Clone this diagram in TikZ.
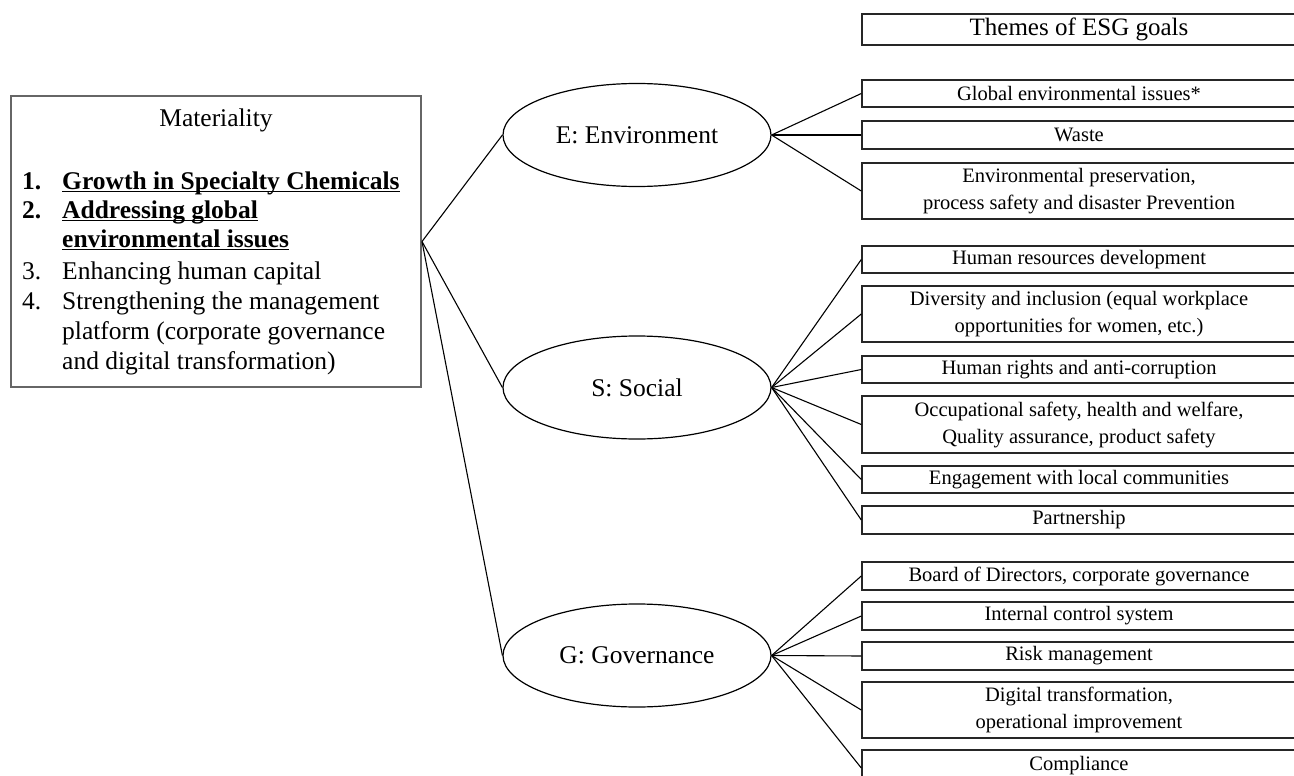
\documentclass[tikz,border=0pt]{standalone}
\usepackage{fontspec}
\setmainfont{Liberation Serif}
\usetikzlibrary{shapes.geometric}
\newcommand\myul[1]{\setbox0\hbox{#1}\rlap{\rule[-3pt]{\wd0}{1.3pt}}\box0}
\begin{document}
\begin{tikzpicture}[x=1pt,y=-1pt,
  bigtxt/.style={font=\fontsize{25.5}{30}\selectfont, inner sep=0pt},
  boldtxt/.style={font=\fontsize{25.5}{30}\selectfont\bfseries, inner sep=0pt},
  itembox/.style={draw=black!85, line width=1.4pt, rectangle, minimum width=434pt, inner sep=0pt, align=center, font=\fontsize{20.5}{27}\selectfont},
  aspect/.style={draw, ellipse, line width=1.2pt, minimum width=268pt, minimum height=103pt, inner sep=0pt, font=\fontsize{25.5}{30}\selectfont},
  link/.style={line width=1.1pt}]
\useasboundingbox (0,0) rectangle (1294,776);
\clip (0,0) rectangle (1294,776);
% Materiality box
\node[draw=black!60, line width=2pt, minimum width=410pt, minimum height=291pt, inner sep=0pt] (mat) at (216,241.5) {};
\node[bigtxt, anchor=base] (mtitle) at (216,126) {Materiality};
\node[boldtxt, anchor=base west] (n1) at (22,189) {1.};
\node[boldtxt, anchor=base west] (t1) at (62,189) {\myul{Growth in Specialty Chemicals}};
\node[boldtxt, anchor=base west] (n2) at (22,218) {2.};
\node[boldtxt, anchor=base west] (t2) at (62,218) {\myul{Addressing global}};
\node[boldtxt, anchor=base west] (t2b) at (62,247) {\myul{environmental issues}};
\node[bigtxt, anchor=base west] (n3) at (22,279) {3.};
\node[bigtxt, anchor=base west] (t3) at (62,279) {Enhancing human capital};
\node[bigtxt, anchor=base west] (n4) at (22,309) {4.};
\node[bigtxt, anchor=base west] (t4) at (62,309) {Strengthening the management};
\node[bigtxt, anchor=base west] (t4b) at (62,339) {platform (corporate governance};
\node[bigtxt, anchor=base west] (t4c) at (62,369) {and digital transformation)};
% Aspects
\node[aspect] (E) at (637,135) {E: Environment};
\node[aspect] (S) at (637,387.5) {S: Social};
\node[aspect] (G) at (637,655.5) {G: Governance};
% Themes
\node[itembox, minimum height=31pt, font=\fontsize{25}{30}\selectfont] (themes) at (1079,29.5) {Themes of ESG goals};
\node[itembox, minimum height=27pt] (ge) at (1079,93.5) {Global environmental issues*};
\node[itembox, minimum height=28pt] (waste) at (1079,135) {Waste};
\node[itembox, minimum height=56pt] (envp) at (1079,191) {Environmental preservation,\\process safety and disaster Prevention};
\node[itembox, minimum height=27pt] (hr) at (1079,259.5) {Human resources development};
\node[itembox, minimum height=56pt] (div) at (1079,314) {Diversity and inclusion (equal workplace\\opportunities for women, etc.)};
\node[itembox, minimum height=27pt] (rights) at (1079,369.5) {Human rights and anti-corruption};
\node[itembox, minimum height=57pt] (occ) at (1079,424.5) {Occupational safety, health and welfare,\\Quality assurance, product safety};
\node[itembox, minimum height=27pt] (eng) at (1079,479.5) {Engagement with local communities};
\node[itembox, minimum height=28pt] (part) at (1079,520) {Partnership};
\node[itembox, minimum height=28pt] (board) at (1079,576) {Board of Directors, corporate governance};
\node[itembox, minimum height=28pt] (ic) at (1079,616) {Internal control system};
\node[itembox, minimum height=28pt] (risk) at (1079,656) {Risk management};
\node[itembox, minimum height=56pt] (dig) at (1079,710) {Digital transformation,\\operational improvement};
\node[itembox, minimum height=32pt] (comp) at (1079,766) {Compliance};
% Connectors
\draw[link] (mat.east) -- (E.west);
\draw[link] (mat.east) -- (S.west);
\draw[link] (mat.east) -- (G.west);
\foreach \t in {ge,waste,envp} \draw[link] (E.east) -- (\t.west);
\foreach \t in {hr,div,rights,occ,eng,part} \draw[link] (S.east) -- (\t.west);
\foreach \t in {board,ic,risk,dig} \draw[link] (G.east) -- (\t.west);
\draw[link] (G.east) -- ([yshift=-2pt]comp.west);
\end{tikzpicture}
\end{document}
